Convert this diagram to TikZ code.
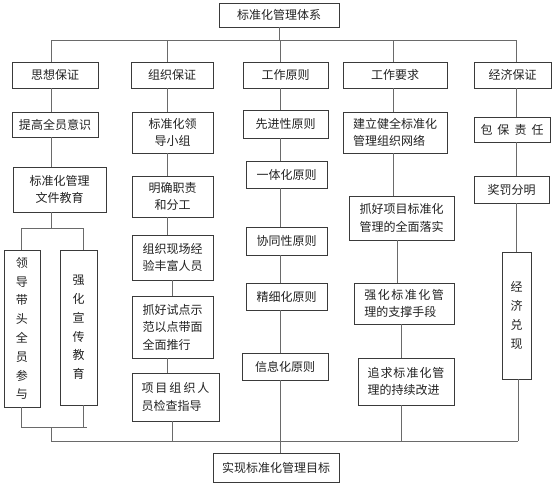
\documentclass[tikz,border=0pt]{standalone}
\usepackage{fontspec}
\setmainfont{Noto Sans CJK SC}
\definecolor{boxc}{HTML}{3A3A3A}
\definecolor{linec}{HTML}{6A6A6A}
\definecolor{txtc}{HTML}{222222}
\begin{document}
\begin{tikzpicture}[x=1pt,y=-1pt,
  box/.style={draw=boxc, line width=0.9pt, fill=white, inner sep=0pt, text=txtc,
    font=\fontsize{12}{17.5}\selectfont, align=center},
  lbox/.style={box, align=left},
  vbox/.style={box, font=\fontsize{12}{18.8}\selectfont},
  wh/.style 2 args={minimum width=#1pt, minimum height=#2pt},
  ln/.style={draw=linec, line width=1pt}]
\useasboundingbox (0,0) rectangle (554,487);
\fill[white] (0,0) rectangle (554,487);
% coordinates
\coordinate (busL) at (51,40.5);
\coordinate (busR) at (516,40.5);
\coordinate (x2) at (167,40.5);
\coordinate (x2b) at (172,0);
\coordinate (x3) at (280,40.5);
\coordinate (x4) at (393,40.5);
\coordinate (x4b) at (397,0);
\coordinate (x4c) at (401,0);
\coordinate (x5b) at (518,0);
\coordinate (lbL) at (51,441);
\coordinate (lbR) at (518,441);
\coordinate (sp) at (51,228);
\coordinate (spL) at (21,228);
\coordinate (spR) at (83,228);
\coordinate (jL) at (21,427);
\coordinate (jR) at (87,427);
\coordinate (jM) at (51,427);
% nodes
\node[box, wh={120}{24}] (top) at (279,15) {标准化管理体系};
\node[box, wh={86}{26}] (h1) at (55,75) {思想保证};
\node[box, wh={82}{26}] (h2) at (172,75) {组织保证};
\node[box, wh={85}{26}] (h3) at (285.5,75) {工作原则};
\node[box, wh={104}{26}] (h4) at (395,75) {工作要求};
\node[box, wh={77}{26}] (h5) at (512.5,75) {经济保证};
% column 1
\node[box, wh={86}{25}] (a1) at (55,124.5) {提高全员意识};
\node[box, wh={93}{45}] (a2) at (59.5,189.5) {标准化管理\\文件教育};
\node[vbox, wh={36}{157}] (a3) at (22,328.5) {领\\导\\带\\头\\全\\员\\参\\与};
\node[vbox, wh={37}{155}] (a4) at (78.5,327.5) {强\\化\\宣\\传\\教\\育};
% column 2
\node[box, wh={81}{41}] (b1) at (172.5,132.5) {标准化领\\导小组};
\node[box, wh={81}{41}] (b2) at (172.5,196.5) {明确职责\\和分工};
\node[box, wh={81}{45}] (b3) at (172.5,257.5) {组织现场经\\验丰富人员};
\node[lbox, wh={81}{62}] (b4) at (172.5,327) {抓好试点示\\范以点带面\\全面推行};
\node[lbox, wh={87}{48}] (b5) at (175.5,397) {项\hspace{2pt}目\hspace{2pt}组\hspace{2pt}织\hspace{2pt}人\\员检查指导};
% column 3
\node[box, wh={85}{28}] (d1) at (285.5,124) {先进性原则};
\node[box, wh={81}{27}] (d2) at (286.5,174.5) {一体化原则};
\node[box, wh={81}{28}] (d3) at (286.5,241) {协同性原则};
\node[box, wh={81}{27}] (d4) at (286.5,296.5) {精细化原则};
\node[box, wh={86}{27}] (d5) at (285,366.5) {信息化原则};
% column 4
\node[lbox, wh={104}{41}] (e1) at (395,132.5) {建立健全标准化\\管理组织网络};
\node[box, wh={105}{44}] (e2) at (401.5,218) {抓好项目标准化\\管理的全面落实};
\node[lbox, wh={100}{41}] (e3) at (404,303.5) {强\hspace{1.5pt}化\hspace{1.5pt}标\hspace{1.5pt}准\hspace{1.5pt}化\hspace{1.5pt}管\\理的支撑手段};
\node[lbox, wh={96}{47}] (e4) at (406,381.5) {追\hspace{1pt}求\hspace{1pt}标\hspace{1pt}准\hspace{1pt}化\hspace{1pt}管\\理的持续改进};
% column 5
\node[box, wh={76}{25}] (f1) at (512,129.5) {包\hspace{5pt}保\hspace{5pt}责\hspace{5pt}任};
\node[box, wh={75}{27}] (f2) at (511.5,189.5) {奖罚分明};
\node[vbox, wh={29}{127}] (f3) at (516.5,315.5) {经\\济\\兑\\现};
% bottom
\node[box, wh={126}{29}] (goal) at (276,467.5) {实现标准化管理目标};
% connectors: top bus
\draw[ln] (top.south) -- (top.south |- busL);
\draw[ln] (busL) -- (busR);
\draw[ln] (busL) -- (h1.north -| busL);
\draw[ln] (x2) -- (h2.north -| x2);
\draw[ln] (x3) -- (h3.north -| x3);
\draw[ln] (x4) -- (h4.north -| x4);
\draw[ln] (busR) -- (h5.north -| busR);
% column 1
\draw[ln] (h1.south -| busL) -- (a1.north -| busL);
\draw[ln] (a1.south -| busL) -- (a2.north -| busL);
\draw[ln] (a2.south -| sp) -- (sp);
\draw[ln] (spL) -- (spR);
\draw[ln] (spL) -- (a3.north -| spL);
\draw[ln] (spR) -- (a4.north -| spR);
\draw[ln] (a3.south -| jL) -- (jL) -- (jR);
\draw[ln] (a4.south -| spR) -- (spR |- jL);
\draw[ln] (jM) -- (lbL);
% column 2
\draw[ln] (h2.south -| x2) -- (b1.north -| x2);
\draw[ln] (b1.south -| x2) -- (b2.north -| x2);
\draw[ln] (b2.south -| x2) -- (b3.north -| x2);
\draw[ln] (b3.south -| x2b) -- (b4.north -| x2b);
\draw[ln] (b4.south -| x2) -- (b5.north -| x2);
\draw[ln] (b5.south -| x2b) -- (lbL -| x2b);
% column 3
\draw[ln] (h3.south -| x3) -- (d1.north -| x3);
\draw[ln] (d1.south -| x3) -- (d2.north -| x3);
\draw[ln] (d2.south -| x3) -- (d3.north -| x3);
\draw[ln] (d3.south -| x3) -- (d4.north -| x3);
\draw[ln] (d4.south -| x3) -- (d5.north -| x3);
\draw[ln] (d5.south -| x3) -- (goal.north -| x3);
% column 4
\draw[ln] (h4.south -| x4) -- (e1.north -| x4);
\draw[ln] (e1.south -| x4) -- (e2.north -| x4);
\draw[ln] (e2.south -| x4b) -- (e3.north -| x4b);
\draw[ln] (e3.south -| x4c) -- (e4.north -| x4c);
\draw[ln] (e4.south -| x4c) -- (lbL -| x4c);
% column 5
\draw[ln] (h5.south -| busR) -- (f1.north -| busR);
\draw[ln] (f1.south -| busR) -- (f2.north -| busR);
\draw[ln] (f2.south -| busR) -- (f3.north -| busR);
\draw[ln] (f3.south -| x5b) -- (lbR);
% bottom bus
\draw[ln] (lbL) -- (lbR);
\end{tikzpicture}
\end{document}
